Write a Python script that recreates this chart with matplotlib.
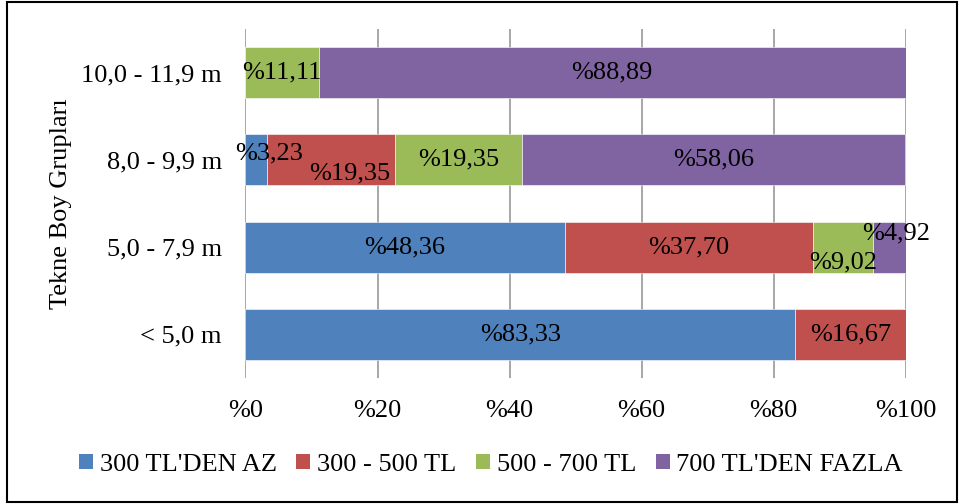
import matplotlib
matplotlib.use('Agg')
import matplotlib.pyplot as plt
from matplotlib.patches import Rectangle, Patch
import numpy as np

# veriler
categories = ['< 5,0 m', '5,0 - 7,9 m', '8,0 - 9,9 m', '10,0 - 11,9 m']
series_names = ["300 TL'DEN AZ", '300 - 500 TL', '500 - 700 TL', "700 TL'DEN FAZLA"]
az_300 = [83.33, 48.36, 3.23, 0]
tl_300_500 = [16.67, 37.70, 19.35, 0]
tl_500_700 = [0, 9.02, 19.35, 11.11]
fazla_700 = [0, 4.92, 58.06, 88.89]
x_ticks = [0, 20, 40, 60, 80, 100]

colors = ['#4F81BD', '#C0504D', '#9BBB59', '#8064A2']
# küçük dilimlerdeki etiketlerin kaydırılması (piksel)
label_offsets = {(2, 0): (13, 6), (2, 1): (19, -14), (1, 2): (0, -15), (1, 3): (7, 14)}

plt.rcParams['font.family'] = ['Liberation Serif', 'DejaVu Serif']
fs = 19

fig = plt.figure(figsize=(9.64, 5.04), dpi=100)
ax = fig.add_axes([245.5 / 964, 1 - 378 / 504, 660 / 964, 349 / 504])

y = np.arange(len(categories))
left = np.zeros(len(categories))
for si, vals in enumerate([az_300, tl_300_500, tl_500_700, fazla_700]):
    vals = np.array(vals, dtype=float)
    ax.barh(y, vals, left=left, height=0.584, color=colors[si],
            edgecolor='white', linewidth=0.4, zorder=3)
    for ci, v in enumerate(vals):
        if v <= 0:
            continue
        dx, dy = label_offsets.get((ci, si), (0, 0))
        txt = '%' + f'{v:.2f}'.replace('.', ',')
        ax.annotate(txt, (left[ci] + v / 2, y[ci]), xytext=(dx, dy),
                    textcoords='offset pixels', ha='center', va='center',
                    fontsize=fs, color='black', zorder=5)
    left += vals

ax.set_xlim(0, 100)
ax.set_ylim(-0.5, len(categories) - 0.5)
ax.set_xticks(x_ticks)
ax.set_xticklabels(['%' + str(t) for t in x_ticks], fontsize=fs)
ax.set_yticks(y)
ax.set_yticklabels(categories, fontsize=fs)
ax.tick_params(axis='x', length=0, pad=16)
ax.tick_params(axis='y', length=0, pad=17)
ax.grid(axis='x', color='#A0A0A0', linewidth=1.3, zorder=0)
for s in ax.spines.values():
    s.set_visible(False)

ax.set_ylabel('Tekne Boy Grupları', fontsize=fs)
ax.yaxis.set_label_coords((72 - 245.5) / 660, 0.5)

handles = [Patch(facecolor=c, edgecolor='none') for c in colors]
fig.legend(handles, series_names, loc='center', ncol=4, frameon=False,
           bbox_to_anchor=(491 / 964, 1 - 465 / 504), fontsize=fs,
           handlelength=0.53, handleheight=0.53, handletextpad=0.25,
           columnspacing=0.75)

fig.patches.append(Rectangle((7 / 964, 2 / 504), 950 / 964, 500 / 504,
                             transform=fig.transFigure, fill=False,
                             edgecolor='black', linewidth=1.5))

fig.savefig('out.png', dpi=100)
